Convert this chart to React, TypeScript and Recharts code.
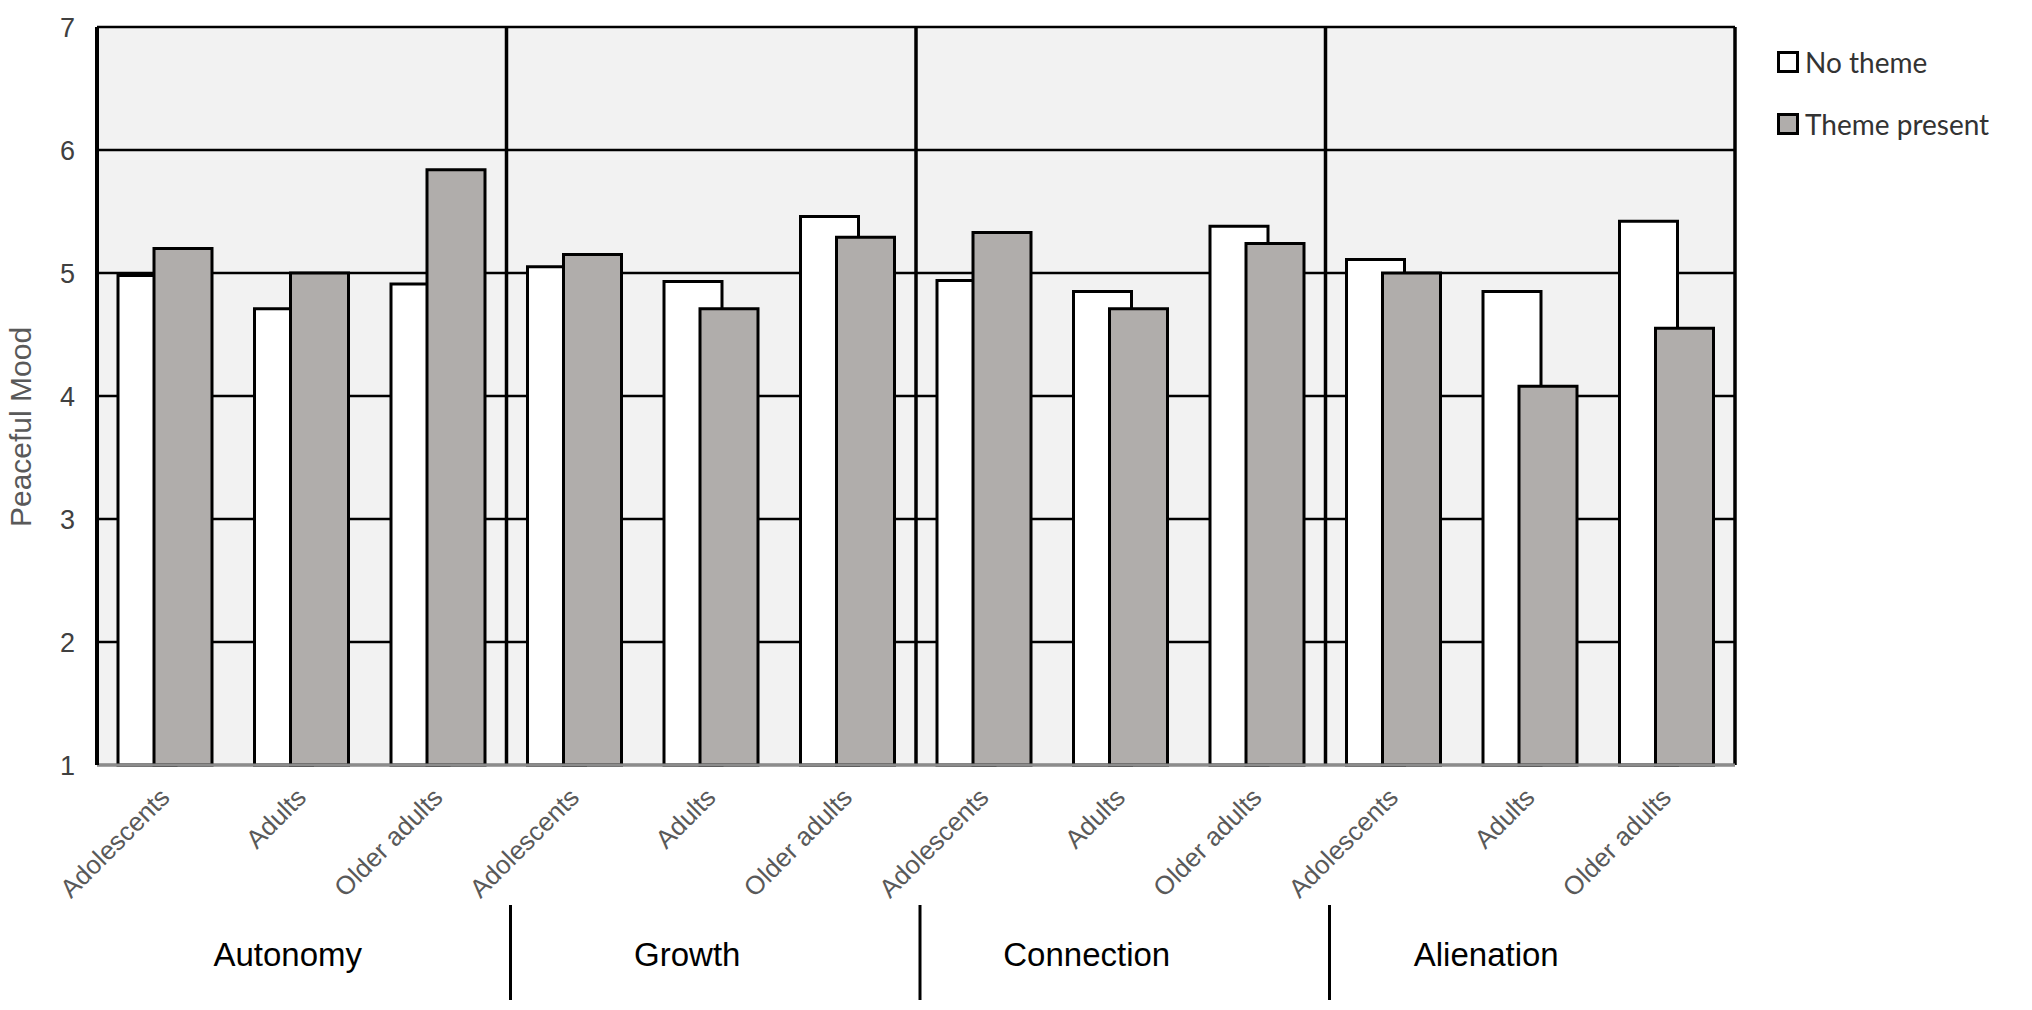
import React from "react";
import {
  BarChart,
  Bar,
  XAxis,
  YAxis,
  CartesianGrid,
  Legend,
} from "recharts";

const themes = ["Autonomy", "Growth", "Connection", "Alienation"];
const ageGroups = ["Adolescents", "Adults", "Older adults"];

// one value per theme x age group
const noTheme = [4.98, 4.71, 4.91, 5.05, 4.93, 5.46, 4.94, 4.85, 5.38, 5.11, 4.85, 5.42];
const themePresent = [5.2, 5.0, 5.84, 5.15, 4.71, 5.29, 5.33, 4.71, 5.24, 5.0, 4.08, 4.55];

const yTicks = [1, 2, 3, 4, 5, 6, 7];

const data = themes.flatMap((theme, ti) =>
  ageGroups.map((age, ai) => ({
    id: `${theme}|${age}`,
    group: theme,
    age,
    noTheme: noTheme[ti * ageGroups.length + ai],
    themePresent: themePresent[ti * ageGroups.length + ai],
  }))
);

const W = 2032;
const H = 1010;
const MARGIN = { top: 27, right: 297, left: 0, bottom: 0 };
const Y_AXIS_W = 97;
const PLOT_W = W - MARGIN.left - MARGIN.right - Y_AXIS_W;
const GROUP_W = PLOT_W / themes.length;

const FONT = "'Liberation Sans', Arial, sans-serif";
const GRAY_FILL = "#b0adab";

const AgeTick = (props: any) => {
  const { x, y, payload } = props;
  const px = x + 6;
  const py = y + 34;
  return (
    <text
      x={px}
      y={py}
      transform={`rotate(-45 ${px} ${py})`}
      textAnchor="end"
      fontFamily={FONT}
      fontSize={26}
      fill="#595959"
    >
      {String(payload.value).split("|")[1]}
    </text>
  );
};

// group names sit a little left of their group's centre in the original
const GroupTick = (props: any) => {
  const { x, y, payload, index } = props;
  return (
    <g>
      <text
        x={x - 14 - 10 * index}
        y={y + 66}
        textAnchor="middle"
        fontFamily={FONT}
        fontSize={33}
        fill="#000"
      >
        {payload.value}
      </text>
      {index > 0 && (
        <line
          x1={x - GROUP_W / 2 + 4}
          x2={x - GROUP_W / 2 + 4}
          y1={y + 5}
          y2={y + 100}
          stroke="#000"
          strokeWidth={3}
        />
      )}
    </g>
  );
};

const renderLegend = (props: any) => {
  const { payload } = props;
  return (
    <div style={{ fontFamily: "Lato, 'Open Sans', sans-serif" }}>
      {payload.map((entry: any) => (
        <div
          key={entry.value}
          style={{ display: "flex", alignItems: "center", height: 62 }}
        >
          <span
            style={{
              width: 16,
              height: 16,
              border: "3px solid #000",
              background: entry.color,
              marginRight: 6,
            }}
          />
          <span style={{ fontSize: 28, color: "#333" }}>{entry.value}</span>
        </div>
      ))}
    </div>
  );
};

const YLabel = (props: any) => {
  const { viewBox } = props;
  const cx = 20;
  const cy = viewBox.y + viewBox.height / 2 + 31;
  return (
    <text
      x={cx}
      y={cy}
      transform={`rotate(-90 ${cx} ${cy})`}
      textAnchor="middle"
      dominantBaseline="central"
      fontFamily={FONT}
      fontSize={30}
      fill="#595959"
    >
      Peaceful Mood
    </text>
  );
};

export default function App() {
  return (
    <div style={{ position: "absolute", left: 0, top: 0, width: W, height: H, background: "#fff" }}>
      <BarChart
        width={W}
        height={H}
        data={data}
        margin={MARGIN}
        barSize={58}
        barGap={-22}
      >
        <CartesianGrid
          xAxisId="age"
          vertical={false}
          stroke="#000"
          strokeWidth={2.5}
          fill="#f2f2f2"
          strokeOpacity={1}
        />
        <CartesianGrid
          xAxisId="age"
          horizontal={false}
          stroke="#000"
          strokeWidth={3.5}
          verticalCoordinatesGenerator={({ offset }: any) =>
            [1, 2, 3, 4].map((k) => offset.left + (offset.width * k) / themes.length)
          }
        />
        <XAxis
          xAxisId="age"
          dataKey="id"
          interval={0}
          height={135}
          tickLine={false}
          tickSize={0}
          tickMargin={0}
          axisLine={{ stroke: "#8c8c8c", strokeWidth: 3 }}
          tick={<AgeTick />}
        />
        <XAxis
          xAxisId="group"
          dataKey="group"
          allowDuplicatedCategory={false}
          interval={0}
          height={110}
          tickLine={false}
          tickSize={0}
          tickMargin={0}
          axisLine={false}
          tick={<GroupTick />}
        />
        <YAxis
          domain={[1, 7]}
          ticks={yTicks}
          width={Y_AXIS_W}
          tickLine={false}
          tickSize={0}
          tickMargin={22}
          axisLine={{ stroke: "#000", strokeWidth: 4 }}
          tick={{ fill: "#404040", fontSize: 27, fontFamily: FONT }}
          label={{ content: <YLabel /> }}
        />
        <Legend
          layout="vertical"
          align="center"
          verticalAlign="middle"
          content={renderLegend}
          wrapperStyle={{ position: "absolute", left: 1777, top: 31, width: 300, height: 124 }}
        />
        <Bar
          xAxisId="age"
          dataKey="noTheme"
          name="No theme"
          fill="#ffffff"
          stroke="#000"
          strokeWidth={3}
          isAnimationActive={false}
        />
        <Bar
          xAxisId="age"
          dataKey="themePresent"
          name="Theme present"
          fill={GRAY_FILL}
          stroke="#000"
          strokeWidth={3}
          isAnimationActive={false}
        />
      </BarChart>
    </div>
  );
}
